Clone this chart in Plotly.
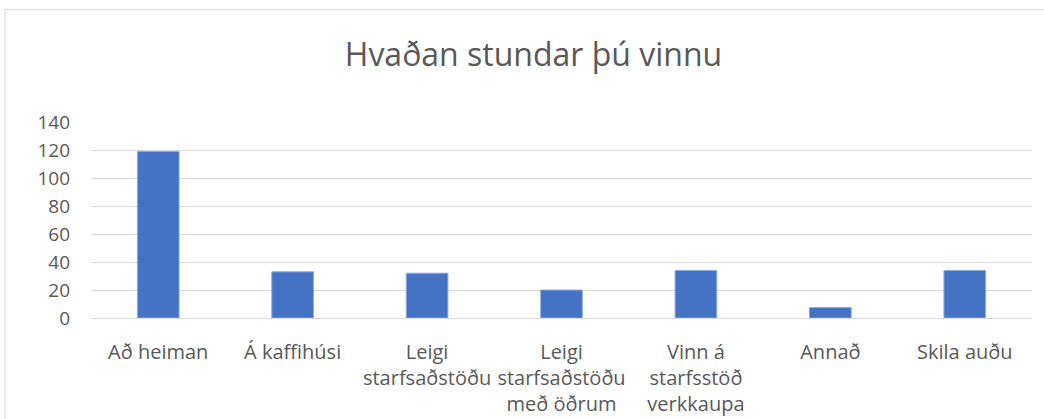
import plotly.graph_objects as go

categories = ["Að heiman", "Á kaffihúsi", "Leigi<br>starfsaðstöðu",
              "Leigi<br>starfsaðstöðu<br>með öðrum", "Vinn á<br>starfsstöð<br>verkkaupa",
              "Annað", "Skila auðu"]
values = [119, 33, 32, 20, 34, 7.5, 34]
y_ticks = [0, 20, 40, 60, 80, 100, 120, 140]

W, H = 1044, 419
FONT = "Open Sans"
GREY = "#595959"

fig = go.Figure(go.Bar(
    x=categories, y=values,
    marker=dict(color="#4472C4", line=dict(color="#8FAADC", width=1)),
    width=0.31,
))

fig.update_layout(
    width=W, height=H,
    margin=dict(l=91, r=12, t=122, b=101, autoexpand=False),
    paper_bgcolor="white", plot_bgcolor="white",
    showlegend=False,
    font=dict(family=FONT, color=GREY, size=19),
    title=dict(text="Hvaðan stundar þú vinnu", x=0.511, xref="container", xanchor="center",
               y=1 - 55 / H, yref="container", yanchor="middle",
               font=dict(family=FONT, size=32, color=GREY)),
    shapes=[dict(type="rect", xref="paper", yref="paper",
                 x0=-86 / 941.0, x1=1.1, y0=-0.6, y1=(H - 9.5 - 101) / 196.0,
                 line=dict(color="#D9D9D9", width=1), layer="below")],
)

fig.update_yaxes(range=[0, 140], tickvals=y_ticks, showgrid=True, gridcolor="#D9D9D9",
                 gridwidth=1, zeroline=True, zerolinecolor="#D9D9D9", zerolinewidth=1,
                 showline=False, ticks="", ticklabelstandoff=20, automargin=False,
                 tickfont=dict(family=FONT, size=19, color=GREY))
fig.update_xaxes(showgrid=False, showline=False, ticks="", tickangle=0, ticklabelstandoff=20,
                 automargin=False, tickfont=dict(family=FONT, size=20, color=GREY))

fig.write_html("out.html", config={"displayModeBar": False},
               post_script="document.body.style.margin='0';")
